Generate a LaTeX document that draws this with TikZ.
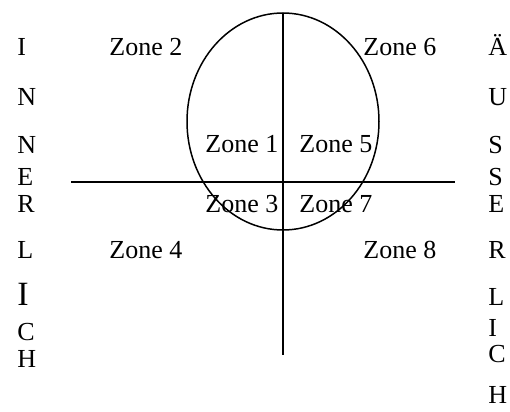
\documentclass[tikz,border=0pt]{standalone}
\usepackage{fontspec}
\setmainfont{Liberation Serif}
\usetikzlibrary{positioning}

\begin{document}
\begin{tikzpicture}[
    x=0.5pt, y=-0.5pt,
    font=\fontsize{13}{15.5}\selectfont,
    zone/.style={anchor=base west, inner sep=0pt},
    letter/.style={anchor=base west, inner sep=0pt},
    axis/.style={draw, line width=0.75pt}
  ]
  \useasboundingbox (0,0) rectangle (510,412);

  % axes and circle
  \coordinate (top) at (283,13);
  \coordinate (bottom) at (283,355);
  \coordinate (left) at (71,182);
  \coordinate (right) at (455,182);
  \draw[axis] (top) -- (bottom);
  \draw[axis] (left) -- (right);
  \draw[axis] (283,121.5) ellipse [x radius=96, y radius=108.5];

  % zones
  \node[zone] (z2) at (109,55) {Zone 2};
  \node[zone] (z6) at (363,55) {Zone 6};
  \node[zone] (z1) at (205,152) {Zone 1};
  \node[zone] (z5) at (299,152) {Zone 5};
  \node[zone] (z3) at (205,213) {Zone 3};
  \node[zone] (z7) at (299,213) {Zone 7};
  \node[zone] (z4) at (109,258) {Zone 4};
  \node[zone] (z8) at (363,258) {Zone 8};

  % side words
  \foreach \ch/\y [count=\i] in {I/55, N/105, N/153, E/185, R/213, L/258,
      {\fontsize{17}{19}\selectfont I}/305, C/340, H/367}
    \node[letter] (in\i) at (17,\y) {\ch};
  \foreach \ch/\y [count=\i] in {Ä/55, U/105, S/153, S/185, E/213, R/258,
      L/305, I/336, C/362, H/403}
    \node[letter] (out\i) at (488,\y) {\ch};

\end{tikzpicture}
\end{document}
